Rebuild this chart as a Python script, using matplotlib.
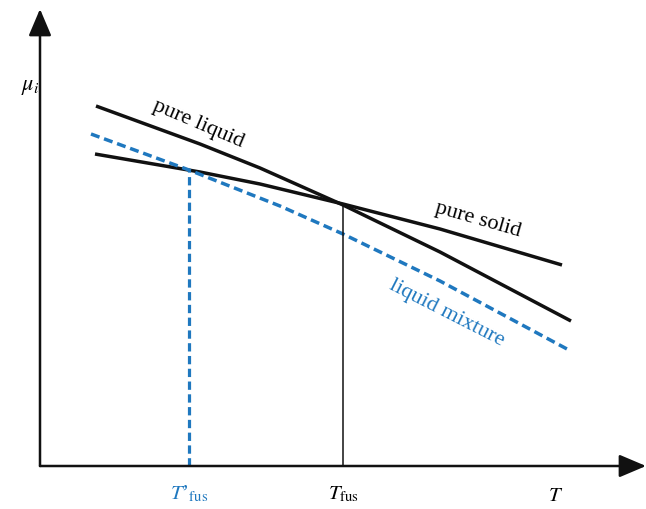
import matplotlib
matplotlib.use("Agg")
import matplotlib.pyplot as plt

plt.rcParams["font.family"] = "Liberation Serif"
plt.rcParams["mathtext.fontset"] = "stix"

# curves (T, mu in arbitrary units)
T_liq = [0.56, 1.60, 2.20, 3.03, 4.00, 5.31]
mu_liq = [3.60, 3.22, 2.98, 2.61, 2.14, 1.45]

T_sol = [0.55, 1.60, 2.20, 3.03, 4.00, 5.22]
mu_sol = [3.12, 2.94, 2.82, 2.62, 2.37, 2.01]

T_mix = [0.51, 1.49, 2.40, 3.03, 4.00, 5.27]
mu_mix = [3.32, 2.96, 2.60, 2.32, 1.85, 1.17]

T_fus = 3.03
mu_fus = 2.62
T_fus_mix = 1.49
mu_fus_mix = 2.96

blue = "#1f78bf"

fig = plt.figure(figsize=(6.46, 5.10), dpi=100)
ax = fig.add_axes([0, 0, 1, 1])
ax.set_xlim(-0.40, 6.06)
ax.set_ylim(-0.43, 4.67)
ax.axis("off")

# axes with arrows
arrow = dict(arrowstyle="-|>,head_length=1.65,head_width=0.7", lw=1.8,
             color="#111111", mutation_scale=10, shrinkA=0, shrinkB=0)
ax.annotate("", xy=(0, 4.57), xytext=(0, 0), arrowprops=arrow)
ax.annotate("", xy=(6.06, 0), xytext=(0, 0), arrowprops=arrow)

# curves
ax.plot(T_liq, mu_liq, color="#111111", lw=2.5, solid_capstyle="butt",
        solid_joinstyle="round")
ax.plot(T_sol, mu_sol, color="#111111", lw=2.5, solid_capstyle="butt",
        solid_joinstyle="round")
ax.plot(T_mix, mu_mix, color=blue, lw=2.5, dashes=(2.6, 1.4))

# melting temperatures
ax.plot([T_fus, T_fus], [0, mu_fus], color="#111111", lw=1.1)
ax.plot([T_fus_mix, T_fus_mix], [0, mu_fus_mix], color=blue, lw=2.3,
        dashes=(2.6, 1.4))

# labels
ax.text(-0.10, 3.79, r"$\mu_i$", fontsize=16, ha="center", va="center")
ax.text(T_fus_mix, -0.27, r"$T$’$_{\mathrm{fus}}$", fontsize=15, color=blue,
        ha="center", va="center")
ax.text(T_fus, -0.27, r"$T_{\mathrm{fus}}$", fontsize=15,
        ha="center", va="center")
ax.text(5.16, -0.30, r"$T$", fontsize=15, ha="center", va="center")

ax.text(1.58, 3.43, "pure liquid", fontsize=16, rotation=-23,
        ha="center", va="center", rotation_mode="anchor")
ax.text(4.38, 2.47, "pure solid", fontsize=16, rotation=-16,
        ha="center", va="center", rotation_mode="anchor")
ax.text(4.07, 1.54, "liquid mixture", fontsize=16, rotation=-27,
        color=blue, ha="center", va="center", rotation_mode="anchor")

fig.savefig("out.png", dpi=100)
